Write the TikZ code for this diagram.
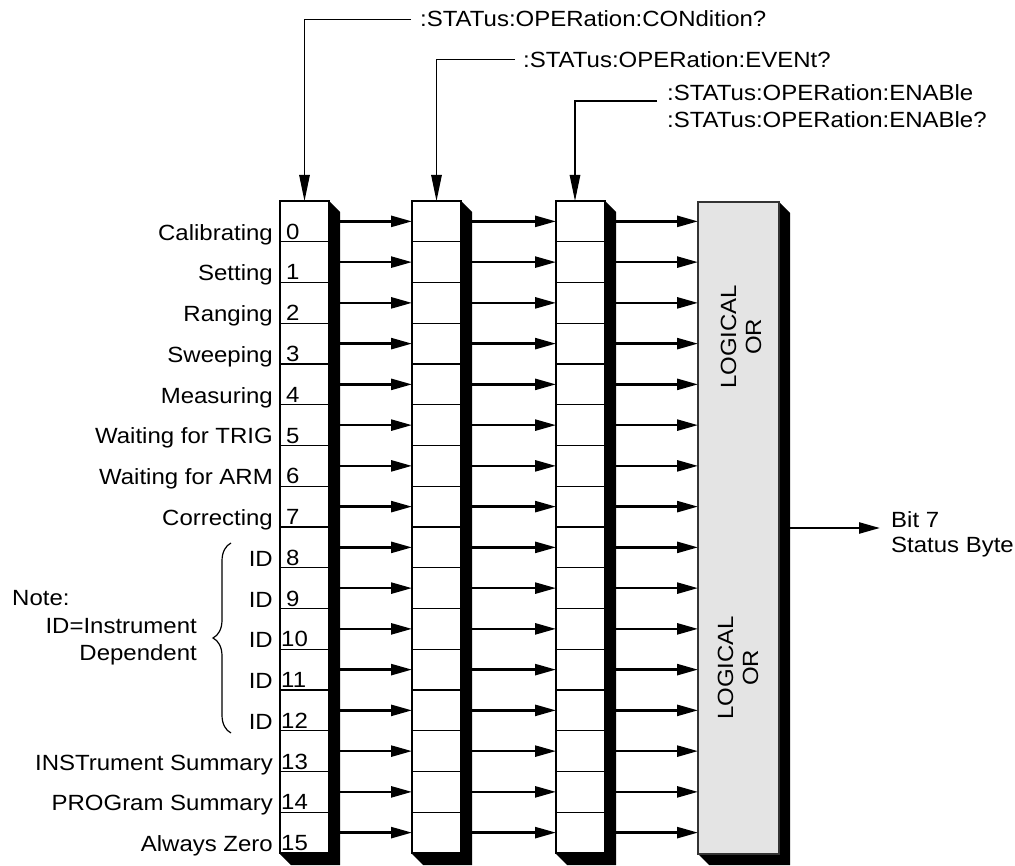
\documentclass[tikz,border=0pt]{standalone}
\usepackage{fontspec}
\setmainfont{Liberation Sans}[FakeStretch=1.09]
\usetikzlibrary{arrows.meta,decorations.pathreplacing}
\definecolor{orgray}{HTML}{E4E4E4}
\begin{document}
\begin{tikzpicture}[x=1pt,y=-1pt,
  every node/.style={font=\fontsize{22}{27}\selectfont, inner sep=0pt},
  cell/.style={draw=black, line width=1.3pt, fill=white, minimum width=49pt, minimum height=40.75pt, inner sep=0pt, outer sep=0pt},
  harrow/.style={line width=2.5pt, -{Triangle[length=21pt,width=11pt]}},
  leader/.style={line width=1.2pt, -{Triangle[length=26pt,width=10.5pt]}},
  lbl/.style={anchor=base east},
  num/.style={anchor=base west},
  ortext/.style={rotate=90, align=center, font=\fontsize{22}{25}\selectfont}
]
\useasboundingbox (0,0) rectangle (1015,866);

% shadows
\foreach \x in {280,412,556}{
  \fill (\x+49,201) -- (\x+60,212) -- (\x+60,865) -- (\x+11,865) -- (\x,854) -- (\x+49,854) -- cycle;
}
\fill (779,202) -- (790,213) -- (790,865) -- (709,865) -- (698,854) -- (779,854) -- cycle;

% register cells
\foreach \c/\x in {1/280,2/412,3/556}{
  \foreach \i in {0,...,15}{
    \node[cell] (c\c r\i) at (\x+24.5, {221.375+40.75*\i}) {};
  }
}

% logical OR box
\node[draw=black!80, line width=1.3pt, fill=orgray, minimum width=81pt, minimum height=652pt, outer sep=0pt] (orbox) at (738.5,528) {};
\node[ortext] (or1) at (741,337) {LOGICAL\\OR};
\node[ortext] (or2) at (738,668) {LOGICAL\\OR};

% bit labels
\foreach \i/\t in {0/Calibrating, 1/Setting, 2/Ranging, 3/Sweeping, 4/Measuring, 5/Waiting for TRIG, 6/Waiting for ARM, 7/Correcting, 8/ID, 9/ID, 10/ID, 11/ID, 12/ID, 13/INSTrument Summary, 14/PROGram Summary, 15/Always Zero}{
  \node[lbl] (l\i) at (273, {201+40.75*(\i+1)-1.5}) {\t};
}
\foreach \i in {0,...,9}{
  \node[num] (n\i) at (286, {201+40.75*(\i+1)-2.5}) {\i};
}
\foreach \i in {10,...,15}{
  \node[num] (n\i) at (281, {201+40.75*(\i+1)-2.5}) {\i};
}

% arrows between registers
\foreach \i in {0,...,15}{
  \draw[harrow] ([xshift=11pt]c1r\i.east) -- (c2r\i.west);
  \draw[harrow] ([xshift=11pt]c2r\i.east) -- (c3r\i.west);
  \draw[harrow] ([xshift=11pt]c3r\i.east) -- (c3r\i -| orbox.west);
}

% output
\coordinate (outend) at (880,528);
\draw[harrow] ([xshift=11pt]orbox.east) -- (outend);
\node[anchor=base west] (bit7) at (891,527) {Bit 7};
\node[anchor=base west] (sbyte) at (891,552) {Status Byte};

% note and brace
\node[anchor=base west] (note) at (12,605) {Note:};
\node[anchor=base east] (idn1) at (197,633) {ID=Instrument};
\node[anchor=base east] (idn2) at (197,660) {Dependent};
\draw[line width=1.2pt, decorate, decoration={brace, amplitude=18pt}] (231,733) -- (231,543);

% commands
\node[anchor=base west, inner xsep=9pt] (cmd1) at (411,27) {:STATus:OPERation:CONdition?};
\draw[leader] (cmd1.west) -| (c1r0.north);
\node[anchor=base west, inner xsep=8pt] (cmd2) at (515,67.5) {:STATus:OPERation:EVENt?};
\draw[leader] (cmd2.west) -| (c2r0.north);
\node[anchor=base west, inner xsep=10pt] (cmd3) at (657,101) {:STATus:OPERation:ENABle};
\node[anchor=base west, inner xsep=10pt] (cmd4) at (657,128) {:STATus:OPERation:ENABle?};
\coordinate (c3top) at ([xshift=-5.5pt]c3r0.north);
\draw[leader] (cmd3.base west) -| (c3top);
\end{tikzpicture}
\end{document}
